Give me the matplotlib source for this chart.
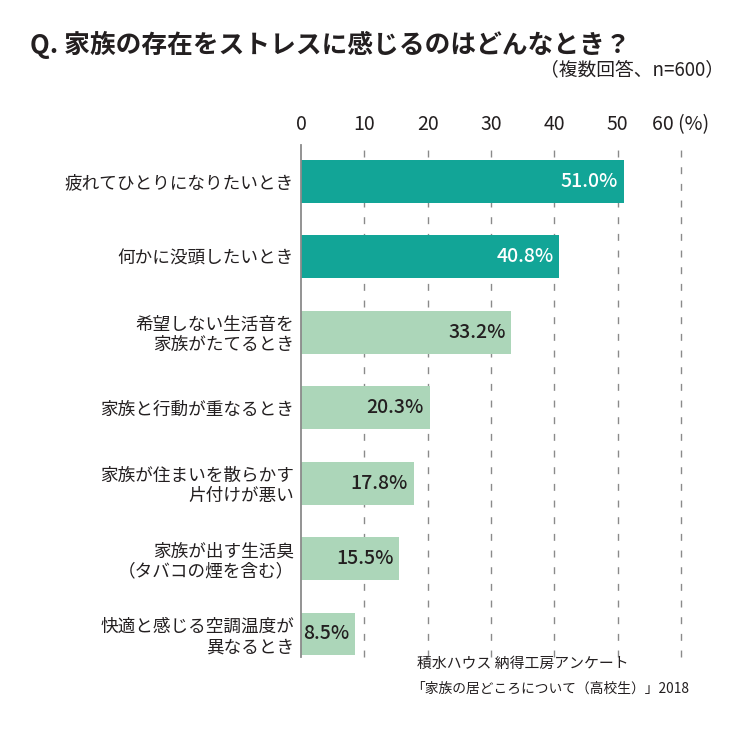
import matplotlib
matplotlib.use('Agg')
import matplotlib.pyplot as plt

plt.rcParams['font.family'] = ['Noto Sans CJK JP', 'DejaVu Sans']

# Data
categories = [
    '疲れてひとりになりたいとき',
    '何かに没頭したいとき',
    '希望しない生活音を\n家族がたてるとき',
    '家族と行動が重なるとき',
    '家族が住まいを散らかす\n片付けが悪い',
    '家族が出す生活臭\n（タバコの煙を含む）',
    '快適と感じる空調温度が\n異なるとき',
]
values = [51.0, 40.8, 33.2, 20.3, 17.8, 15.5, 8.5]
ticks = [0, 10, 20, 30, 40, 50, 60]
tick_labels = ['0', '10', '20', '30', '40', '50', '60 (%)']

dark = '#12a597'
light = '#acd6b9'
text_col = '#231f20'
colors = [dark, dark] + [light] * 5
label_cols = ['white', 'white'] + [text_col] * 5

fig = plt.figure(figsize=(7.35, 7.40), dpi=100)
ax = fig.add_axes([301 / 735, 1 - 657 / 740, (681 - 301) / 735, (657 - 145) / 740])

y = list(range(len(categories)))
ax.barh(y, values, height=0.57, color=colors, zorder=2)

# dashed grid lines
for t in ticks[1:]:
    ax.axvline(t, color='#8a8a8a', lw=1.0, ls=(0, (5, 7)), zorder=1, clip_on=False)
ax.axvline(0, color='#8a8a8a', lw=1.3, zorder=3, clip_on=False)

for yi, v, c in zip(y, values, label_cols):
    ax.text(v - 0.9, yi, f'{v:.1f}%', ha='right', va='center', color=c,
            fontsize=14, fontweight='medium', zorder=4)

ax.set_xlim(0, 60)
ax.set_ylim(6.305, -0.484)
ax.set_yticks(y)
ax.set_yticklabels(categories, fontsize=12.7, color=text_col, linespacing=1.15)
ax.xaxis.tick_top()
ax.set_xticks(ticks)
ax.set_xticklabels(tick_labels, fontsize=14, color=text_col)
ax.tick_params(axis='both', length=0)
ax.tick_params(axis='y', pad=5)
ax.tick_params(axis='x', pad=7)
for s in ax.spines.values():
    s.set_visible(False)

fig.text(30 / 735, 1 - 45 / 740, 'Q. 家族の存在をストレスに感じるのはどんなとき？',
         fontsize=18.5, fontweight='bold', color=text_col, va='center', ha='left')
fig.text(724 / 735, 1 - 70 / 740, '（複数回答、n=600）', fontsize=13.5,
         color=text_col, va='center', ha='right')

fig.text(417 / 735, 1 - 664 / 740, '積水ハウス 納得工房アンケート', fontsize=10.7,
         color=text_col, va='center', ha='left')
fig.text(411 / 735, 1 - 689 / 740, '「家族の居どころについて（高校生）」2018', fontsize=9.9,
         color=text_col, va='center', ha='left')

fig.savefig('out.png', dpi=100, facecolor='white')
